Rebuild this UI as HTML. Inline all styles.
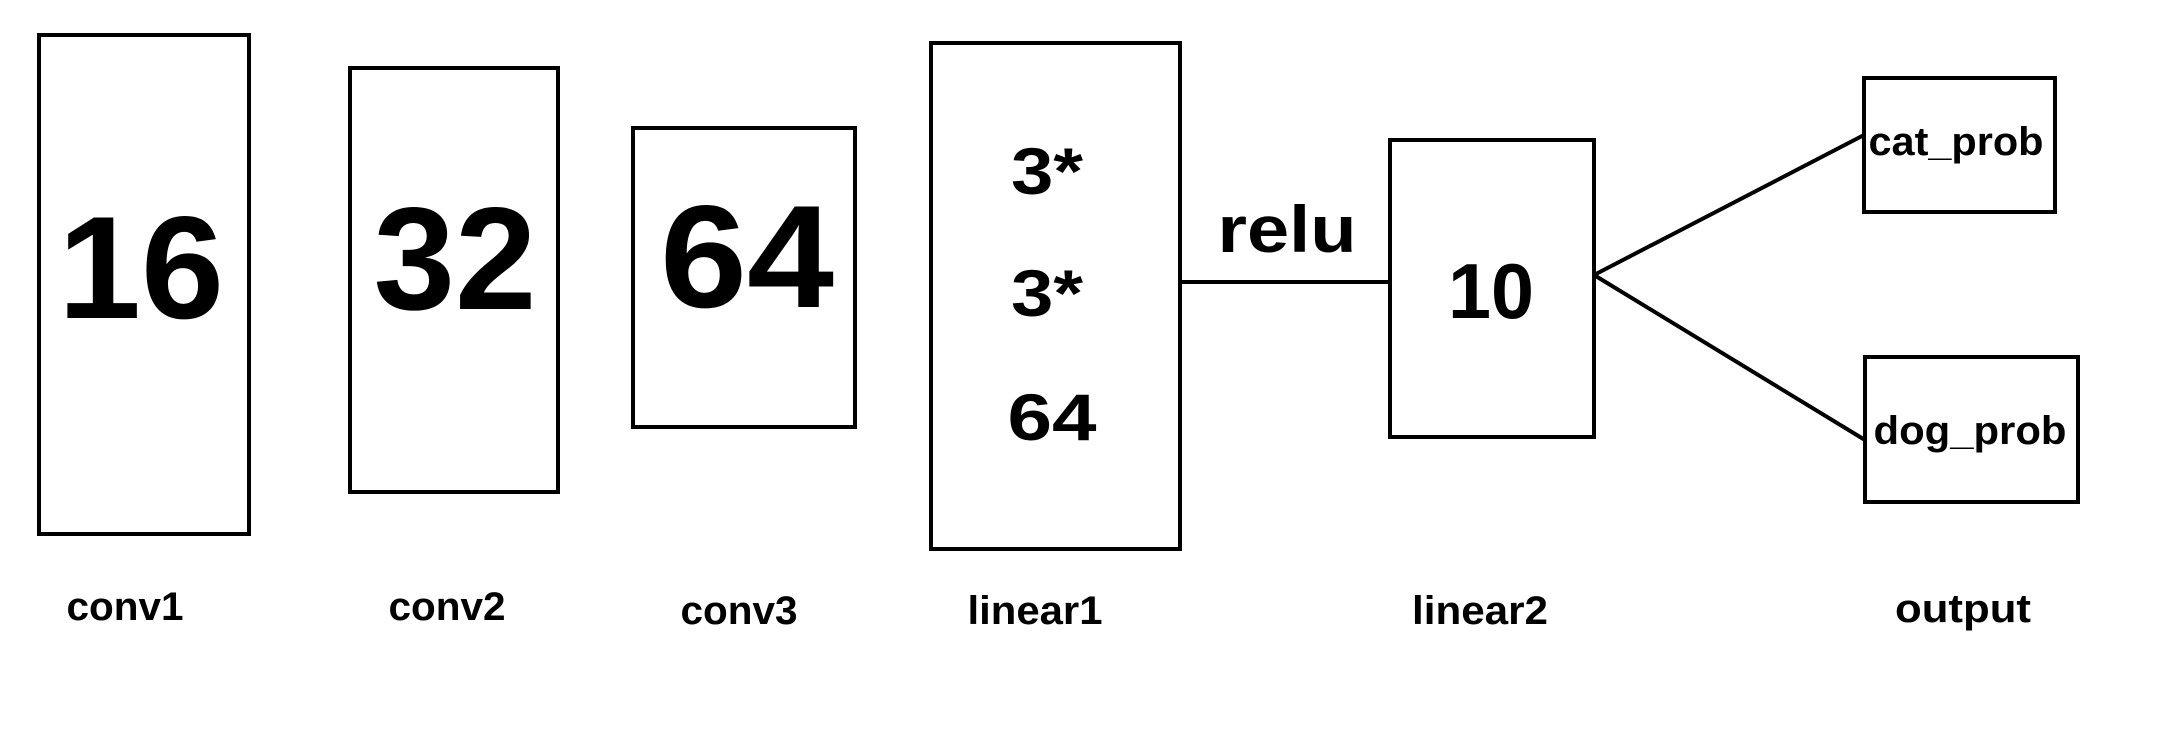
<!DOCTYPE html>
<html><head><meta charset="utf-8"><style>
html,body{margin:0;padding:0;background:#fff;width:2167px;height:743px;overflow:hidden}
text{font-family:"Liberation Sans",sans-serif;font-weight:bold;fill:#000}
</style></head><body>
<svg width="2167" height="743" viewBox="0 0 2167 743">
<g fill="none" stroke="#000" stroke-width="4">
<rect x="39" y="35" width="210" height="499"/>
<rect x="350" y="68" width="208" height="424"/>
<rect x="633" y="128" width="222" height="299"/>
<rect x="931" y="43" width="249" height="506"/>
<rect x="1390" y="140" width="204" height="297"/>
<rect x="1864" y="78" width="191" height="134"/>
<rect x="1865" y="357" width="213" height="145"/>
<line x1="1180" y1="282" x2="1390" y2="282"/>
<line x1="1594" y1="275" x2="1864" y2="135"/>
<line x1="1594" y1="275" x2="1865" y2="440"/>
</g>
<g text-anchor="middle">
<text x="141" y="318" font-size="146" textLength="166" lengthAdjust="spacingAndGlyphs">16</text>
<text x="455" y="309" font-size="146" textLength="163" lengthAdjust="spacingAndGlyphs">32</text>
<text x="747" y="307" font-size="146" textLength="174" lengthAdjust="spacingAndGlyphs">64</text>
<text x="1047" y="194" font-size="66" textLength="72" lengthAdjust="spacingAndGlyphs">3*</text>
<text x="1047" y="316" font-size="66" textLength="72" lengthAdjust="spacingAndGlyphs">3*</text>
<text x="1052" y="440" font-size="66" textLength="89" lengthAdjust="spacingAndGlyphs">64</text>
<text x="1491" y="318" font-size="78" textLength="86" lengthAdjust="spacingAndGlyphs">10</text>
<text x="1287" y="252" font-size="66" textLength="139" lengthAdjust="spacingAndGlyphs">relu</text>
<text x="1956" y="155" font-size="40" textLength="175" lengthAdjust="spacingAndGlyphs">cat_prob</text>
<text x="1970" y="444" font-size="40" textLength="193" lengthAdjust="spacingAndGlyphs">dog_prob</text>
<text x="125" y="620" font-size="40" textLength="117" lengthAdjust="spacingAndGlyphs">conv1</text>
<text x="447" y="620" font-size="40" textLength="117" lengthAdjust="spacingAndGlyphs">conv2</text>
<text x="739" y="624" font-size="40" textLength="117" lengthAdjust="spacingAndGlyphs">conv3</text>
<text x="1035" y="624" font-size="40" textLength="135" lengthAdjust="spacingAndGlyphs">linear1</text>
<text x="1480" y="624" font-size="40" textLength="136" lengthAdjust="spacingAndGlyphs">linear2</text>
<text x="1963" y="622" font-size="40" textLength="136" lengthAdjust="spacingAndGlyphs">output</text>
</g>
</svg>
</body></html>
